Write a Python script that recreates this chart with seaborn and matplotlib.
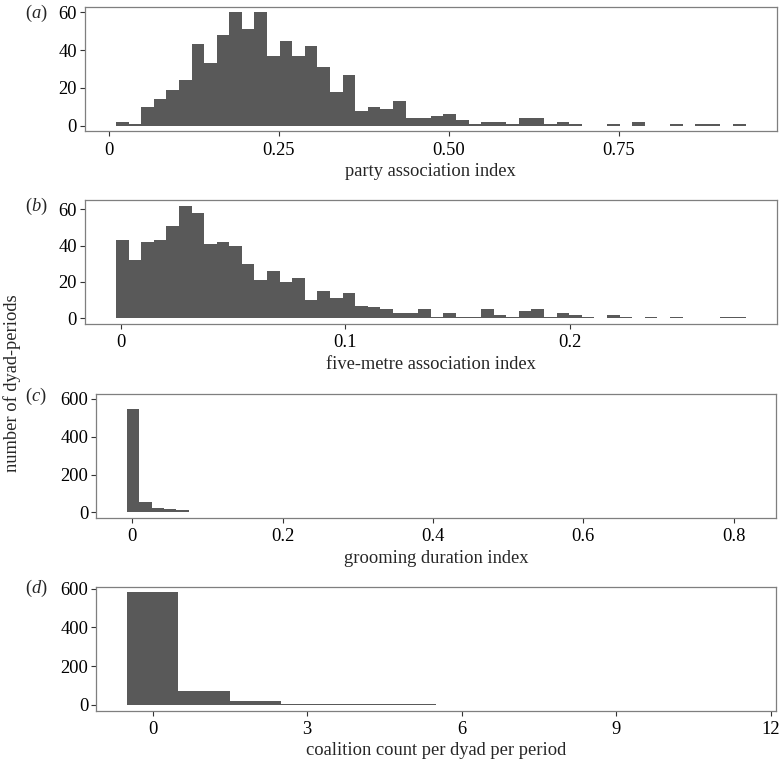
import numpy as np
import pandas as pd
import matplotlib
matplotlib.use("Agg")
import matplotlib.pyplot as plt
import seaborn as sns

# ---------------- data ----------------
party_start, party_width = 0.0103, 0.01853
party_counts = [2, 1, 10, 14, 19, 24, 43, 33, 48, 60, 51, 60, 37, 45, 37, 42, 31, 18, 27, 8,
                10, 9, 13, 4, 4, 5, 6, 3, 1, 2, 2, 1, 4, 4, 1, 2, 1, 0, 0, 1,
                0, 2, 0, 0, 1, 0, 1, 1, 0, 1]

five_start, five_width = -0.0022, 0.005612
five_counts = [43, 32, 42, 43, 51, 62, 58, 41, 42, 40, 30, 21, 26, 20, 22, 10, 15, 11, 14, 7,
               6, 5, 3, 3, 5, 1, 3, 1, 1, 5, 2, 1, 4, 5, 1, 3, 2, 1, 0, 2,
               1, 0, 1, 0, 1, 0, 0, 0, 1, 1]

groom_start, groom_width = -0.0073, 0.01645
groom_counts = [548, 57, 23, 18, 13, 4, 3, 2, 2, 1, 1, 1, 1, 0, 1, 1, 0, 0, 1, 0,
                1, 0, 0, 0, 0, 1, 0, 0, 0, 0, 0, 0, 0, 0, 0, 0, 1, 0, 0, 0,
                0, 0, 0, 0, 0, 0, 0, 0, 1, 0]

coal_values = list(range(12))
coal_counts = [581, 70, 22, 6, 2, 3, 1, 1, 0, 1, 0, 1]

party_ticks = [0, 0.25, 0.5, 0.75]
party_ticklabels = ["0", "0.25", "0.50", "0.75"]
five_ticks = [0, 0.1, 0.2]
five_ticklabels = ["0", "0.1", "0.2"]
groom_ticks = [0, 0.2, 0.4, 0.6, 0.8]
groom_ticklabels = ["0", "0.2", "0.4", "0.6", "0.8"]
coal_ticks = [0, 3, 6, 9, 12]
coal_ticklabels = ["0", "3", "6", "9", "12"]

xlabels = ["party association index", "five-metre association index",
           "grooming duration index", "coalition count per dyad per period"]
panel_letters = ["a", "b", "c", "d"]
ylabel = "number of dyad-periods"

# ---------------- style ----------------
sns.set_theme(style="white")
plt.rcParams["font.family"] = ["Liberation Serif", "DejaVu Serif"]
plt.rcParams["mathtext.fontset"] = "custom"
plt.rcParams["mathtext.it"] = "Liberation Serif:italic"
plt.rcParams["mathtext.rm"] = "Liberation Serif"

W, H = 780, 762
fig = plt.figure(figsize=(W / 100, H / 100), dpi=100)
fig.patch.set_facecolor("white")

BAR = "#595959"
SPINE = "#7f7f7f"
FS = 13.3

def add_ax(left, top, right, bottom):
    return fig.add_axes([left / W, 1 - bottom / H, (right - left) / W, (bottom - top) / H])

def make_hist(ax, start, width, counts):
    n = len(counts)
    edges = start + width * np.arange(n + 1)
    centers = (edges[:-1] + edges[1:]) / 2
    df = pd.DataFrame({"x": centers, "w": counts})
    sns.histplot(data=df, x="x", weights="w", bins=edges.tolist(), ax=ax,
                 color=BAR, alpha=1, edgecolor="none", linewidth=0)
    lo, hi = edges[0], edges[-1]
    pad = 0.05 * (hi - lo)
    ax.set_xlim(lo - pad, hi + pad)

def style(ax, ylim, yticks, xticks, xticklabels, xlabel, letter, letter_x, letter_y):
    ax.set_ylim(*ylim)
    ax.set_yticks(yticks)
    ax.set_yticklabels([str(t) for t in yticks])
    ax.set_xticks(xticks)
    ax.set_xticklabels(xticklabels)
    ax.set_ylabel("")
    ax.set_xlabel(xlabel, fontsize=FS, labelpad=3)
    for s in ax.spines.values():
        s.set_color(SPINE)
        s.set_linewidth(0.9)
    ax.tick_params(axis="x", direction="out", length=3.5, width=0.8,
                   color="#333333", labelsize=FS, labelcolor="black", pad=4,
                   bottom=True)
    ax.tick_params(axis="y", direction="out", length=3.5, width=0.8,
                   color="#333333", labelsize=FS, labelcolor="black", pad=2,
                   left=True)
    fig.text(letter_x / W, 1 - letter_y / H, "(" + r"$\mathit{" + letter + "}$" + ")",
             fontsize=FS, ha="left", va="center")

# panel a
ax1 = add_ax(84.5, 6.7, 777, 131.4)
make_hist(ax1, party_start, party_width, party_counts)
style(ax1, (-3, 63), [0, 20, 40, 60], party_ticks, party_ticklabels, xlabels[0], "a", 25, 13)

# panel b
ax2 = add_ax(84.5, 200, 777, 324)
make_hist(ax2, five_start, five_width, five_counts)
style(ax2, (-3.1, 65.1), [0, 20, 40, 60], five_ticks, five_ticklabels, xlabels[1], "b", 25, 206)

# panel c
ax3 = add_ax(96, 394, 776, 518)
make_hist(ax3, groom_start, groom_width, groom_counts)
style(ax3, (-30, 626), [0, 200, 400, 600], groom_ticks, groom_ticklabels, xlabels[2], "c", 25, 396)

# panel d
ax4 = add_ax(96, 586.7, 776, 710.5)
df_d = pd.DataFrame({"x": coal_values, "w": coal_counts})
sns.histplot(data=df_d, x="x", weights="w", discrete=True, ax=ax4,
             color=BAR, alpha=1, edgecolor="none", linewidth=0)
ax4.set_xlim(-0.5 - 0.6, 11.5 + 0.6)
style(ax4, (-29, 610), [0, 200, 400, 600], coal_ticks, coal_ticklabels, xlabels[3], "d", 25, 588)

fig.text(12 / W, 1 - 383 / H, ylabel, rotation=90, fontsize=FS, ha="center", va="center")

fig.savefig("out.png", dpi=100, facecolor="white")
